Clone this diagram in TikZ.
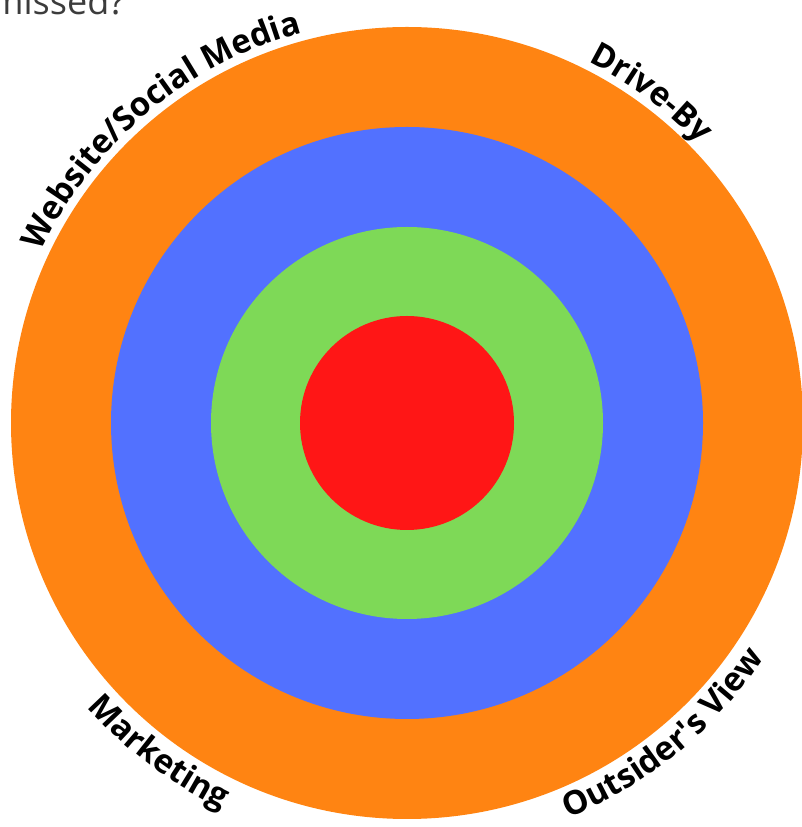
\documentclass[tikz,border=0pt]{standalone}
\usepackage{fontspec}
\setmainfont{Open Sans}
\usetikzlibrary{decorations.text}
\definecolor{ringorange}{HTML}{FF8412}
\definecolor{ringblue}{HTML}{5271FF}
\definecolor{ringgreen}{HTML}{7ED957}
\definecolor{ringred}{HTML}{FF1616}
\definecolor{capgray}{HTML}{3C3C3C}

\begin{document}
\begin{tikzpicture}[x=1pt,y=1pt,
   ringlabel/.style={decorate,decoration={text along path,text align=center,
     text={|\fontsize{33}{33}\selectfont\bfseries|#1}}}]
  \useasboundingbox (0,0) rectangle (801,827);
  \coordinate (c) at (407,404);
  \fill[ringorange] (c) circle[radius=396];
  \fill[ringblue] (c) circle[radius=296];
  \fill[ringgreen] (c) circle[radius=196];
  \fill[ringred] (c) circle[radius=107];
  \node[anchor=base east,inner sep=0pt,text=capgray,font=\fontsize{36}{36}\selectfont] (missed) at (125,812) {missed?};
  \path[ringlabel={Website/Social Media}] (c) ++(165:404) arc[start angle=165,end angle=95,radius=404];
  \path[ringlabel={Drive-By}] (c) ++(80:404) arc[start angle=80,end angle=27,radius=404];
  \path[ringlabel={Marketing}] (c) ++(208:428) arc[start angle=208,end angle=258,radius=428];
  \path[ringlabel={Outsider{\textquotesingle}s View}] (c) ++(282.5:427) arc[start angle=282.5,end angle=336.5,radius=427];
\end{tikzpicture}
\end{document}
